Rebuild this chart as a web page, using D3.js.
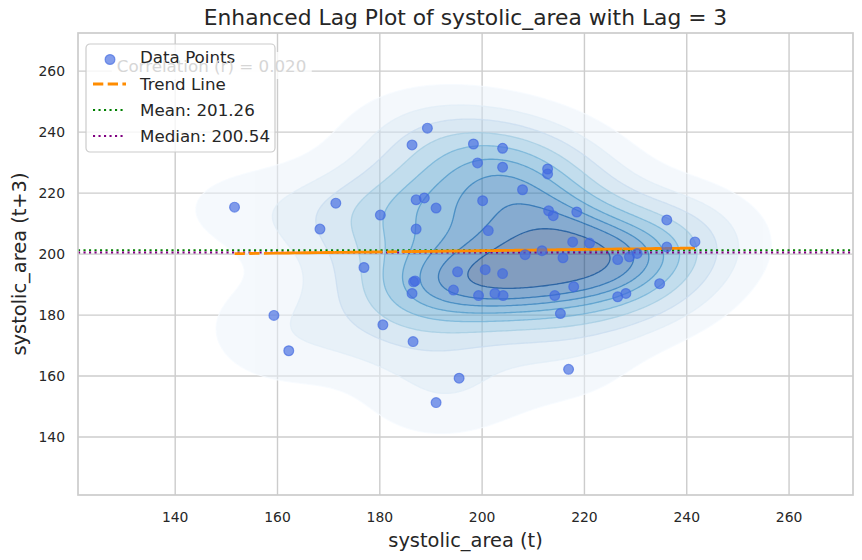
<!DOCTYPE html>
<html>
<head>
<meta charset="utf-8">
<script src="https://cdn.jsdelivr.net/npm/d3@7"></script>
<style>
  body { margin: 0; background: #fff; }
  text { font-family: "DejaVu Sans", sans-serif; fill: #262626; }
</style>
</head>
<body>
<div id="chart"></div>
<script>
// lag pairs: x = value at t, y = value at t+3
const lagX = [151.6, 171.4, 168.3, 180.1, 176.9, 159.3, 162.2, 180.6, 189.3, 186.3,
              198.3, 204.0, 199.1, 204.0, 212.8, 212.8, 207.9, 187.1, 188.7, 191.0,
              200.1, 213.0, 213.9, 218.5, 187.1, 201.2, 217.7, 221.0, 226.5, 208.4,
              211.7, 215.8, 195.2, 200.6, 204.0, 186.6, 186.9, 186.3, 194.4, 199.3,
              202.5, 204.1, 214.2, 217.9, 226.5, 228.1, 236.1, 241.6, 236.1, 228.8,
              230.3, 234.7, 215.3, 186.5, 195.5, 191.0, 216.9];
const lagY = [215.4, 216.7, 208.2, 212.8, 195.6, 179.9, 168.3, 176.8, 241.3, 235.8,
              236.1, 234.7, 229.9, 228.5, 227.9, 226.3, 221.1, 217.8, 218.4, 215.1,
              217.5, 214.2, 212.6, 213.8, 208.2, 207.7, 204.0, 203.6, 198.2, 199.8,
              201.1, 198.8, 194.2, 194.9, 193.6, 190.9, 191.2, 187.1, 188.2, 186.4,
              187.1, 186.4, 186.4, 189.3, 186.0, 187.1, 211.2, 204.0, 202.3, 199.1,
              200.2, 190.3, 180.5, 171.3, 159.3, 151.3, 162.2];

const tickValues = [140, 160, 180, 200, 220, 240, 260];
const axisLimits = [121, 272.5];
const meanValue = 201.26;
const medianValue = 200.54;
const corrLabel = 'Correlation (r) = 0.020';
const legendLabels = ['Data Points', 'Trend Line', 'Mean: 201.26', 'Median: 200.54'];
// matplotlib "Blues" anchor colours
const bluesStops = ['#f7fbff', '#deebf7', '#c6dbef', '#9ecae1', '#6baed6',
                    '#4292c6', '#2171b5', '#08519c', '#08306b'];
const bwAdjust = 1.06;

const W = 862, H = 560;
const margin = { top: 33, right: 9, bottom: 65, left: 78 };
const iw = W - margin.left - margin.right;
const ih = H - margin.top - margin.bottom;

const svg = d3.select('#chart').append('svg')
    .attr('width', W).attr('height', H);

const x = d3.scaleLinear().domain(axisLimits).range([0, iw]);
const y = d3.scaleLinear().domain(axisLimits).range([ih, 0]);

const g = svg.append('g').attr('transform', `translate(${margin.left},${margin.top})`);

// grid
g.append('g').selectAll('line').data(tickValues).enter().append('line')
    .attr('x1', d => x(d)).attr('x2', d => x(d)).attr('y1', 0).attr('y2', ih)
    .attr('stroke', '#cccccc').attr('stroke-width', 1.4);
g.append('g').selectAll('line').data(tickValues).enter().append('line')
    .attr('y1', d => y(d)).attr('y2', d => y(d)).attr('x1', 0).attr('x2', iw)
    .attr('stroke', '#cccccc').attr('stroke-width', 1.4);

// --- KDE (gaussian_kde, Scott bandwidth) ---
const n = lagX.length;
const mx = d3.mean(lagX), my = d3.mean(lagY);
let sxx = 0, syy = 0, sxy = 0;
for (let i = 0; i < n; i++) {
    sxx += (lagX[i] - mx) ** 2;
    syy += (lagY[i] - my) ** 2;
    sxy += (lagX[i] - mx) * (lagY[i] - my);
}
const fac = (Math.pow(n, -1 / 6) * bwAdjust) ** 2;
const cxx = sxx / (n - 1) * fac, cyy = syy / (n - 1) * fac, cxy = sxy / (n - 1) * fac;
const det = cxx * cyy - cxy * cxy;
const ixx = cyy / det, iyy = cxx / det, ixy = -cxy / det;

const step = 2;
const gw = Math.ceil(iw / step), gh = Math.ceil(ih / step);
const grid = new Float64Array(gw * gh);
for (let j = 0; j < gh; j++) {
    const vy = y.invert((j + 0.5) * step);
    for (let i = 0; i < gw; i++) {
        const vx = x.invert((i + 0.5) * step);
        let s = 0;
        for (let k = 0; k < n; k++) {
            const dx = vx - lagX[k], dy = vy - lagY[k];
            s += Math.exp(-0.5 * (ixx * dx * dx + 2 * ixy * dx * dy + iyy * dy * dy));
        }
        grid[j * gw + i] = s;
    }
}

// iso-proportion levels, like seaborn (levels=10, thresh=0.05)
const sorted = Array.from(grid).sort((a, b) => b - a);
const total = d3.sum(sorted);
const cum = [];
let acc = 0;
for (const v of sorted) { acc += v; cum.push(acc / total); }
const props = d3.range(10).map(i => 0.05 + i * 0.95 / 9);
const levels = props.map(p => {
    const idx = Math.min(d3.bisectLeft(cum, 1 - p), sorted.length - 1);
    return sorted[idx];
}).sort((a, b) => a - b);

const blues = d3.scaleLinear().domain(d3.range(9).map(i => i / 8)).range(bluesStops);
const lo = levels[0], hi = levels[levels.length - 1];
const norm = v => (v - lo) / (hi - lo);

const contours = d3.contours().size([gw, gh]).thresholds(levels.slice(0, 9))(grid);
const path = d3.geoPath(d3.geoIdentity().scale(step));

const kdeFill = g.append('g').attr('opacity', 0.5);
kdeFill.selectAll('path').data(contours).enter().append('path')
    .attr('d', path)
    .attr('fill', (d, i) => blues(norm((levels[i] + levels[i + 1]) / 2)));

g.append('g').selectAll('path').data(contours).enter().append('path')
    .attr('d', path)
    .attr('fill', 'none')
    .attr('stroke', (d, i) => blues(norm(levels[i])))
    .attr('stroke-width', 1.3)
    .attr('opacity', 0.7);

// mean / median lines
g.append('line')
    .attr('x1', 0).attr('x2', iw).attr('y1', y(meanValue)).attr('y2', y(meanValue))
    .attr('stroke', 'green').attr('stroke-width', 2.1).attr('stroke-dasharray', '2.1,3.4');
g.append('line')
    .attr('x1', 0).attr('x2', iw).attr('y1', y(medianValue)).attr('y2', y(medianValue))
    .attr('stroke', 'purple').attr('stroke-width', 2.1).attr('stroke-dasharray', '2.1,3.4');

// trend line (least squares), drawn through the points in series order
const slope = sxy / sxx;
const intercept = my - slope * mx;
const trendLine = d3.line().x(d => x(d)).y(d => y(intercept + slope * d));
g.append('path')
    .attr('d', trendLine(lagX))
    .attr('fill', 'none')
    .attr('stroke', '#ff8c00').attr('stroke-width', 2.8)
    .attr('stroke-dasharray', '10.3,4.4');

// points
g.append('g').selectAll('circle').data(lagX).enter().append('circle')
    .attr('cx', d => x(d))
    .attr('cy', (d, i) => y(lagY[i]))
    .attr('r', 4.9)
    .attr('fill', 'royalblue').attr('fill-opacity', 0.65)
    .attr('stroke', 'royalblue').attr('stroke-opacity', 0.65).attr('stroke-width', 1.2);

// frame
g.append('rect').attr('width', iw).attr('height', ih)
    .attr('fill', 'none').attr('stroke', '#cccccc').attr('stroke-width', 1.7);

// tick labels
g.append('g').selectAll('text').data(tickValues).enter().append('text')
    .attr('x', d => x(d)).attr('y', ih + 27)
    .attr('text-anchor', 'middle').attr('font-size', '13.9px')
    .text(d => d);
g.append('g').selectAll('text').data(tickValues).enter().append('text')
    .attr('x', -13).attr('y', d => y(d)).attr('dy', '0.36em')
    .attr('text-anchor', 'end').attr('font-size', '13.9px')
    .text(d => d);

// axis labels + title
svg.append('text')
    .attr('x', margin.left + iw / 2).attr('y', 547)
    .attr('text-anchor', 'middle').attr('font-size', '19.4px')
    .text('systolic_area (t)');
svg.append('text')
    .attr('transform', `translate(26,${margin.top + ih / 2}) rotate(-90)`)
    .attr('text-anchor', 'middle').attr('font-size', '19.4px')
    .text('systolic_area (t+3)');
svg.append('text')
    .attr('x', margin.left + iw / 2).attr('y', 25)
    .attr('text-anchor', 'middle').attr('font-size', '21.8px')
    .text('Enhanced Lag Plot of systolic_area with Lag = 3');

// correlation box (behind legend), its text shows through the legend
const corrX = margin.left + 0.05 * iw, corrY = margin.top + 0.05 * ih;
svg.append('rect')
    .attr('x', corrX - 5).attr('y', corrY - 4).attr('width', 200).attr('height', 27).attr('rx', 5)
    .attr('fill', 'white').attr('opacity', 0.8);

// legend
const lg = svg.append('g').attr('transform', 'translate(86,44)');
lg.append('rect')
    .attr('width', 189).attr('height', 108).attr('rx', 4)
    .attr('fill', 'white').attr('fill-opacity', 0.8)
    .attr('stroke', '#cccccc').attr('stroke-width', 1.2);

svg.append('text')
    .attr('x', corrX).attr('y', corrY + 16).attr('font-size', '16.7px')
    .style('fill', '#d6d6d6')
    .text(corrLabel);

const rowY = [13, 40, 66, 92];
lg.selectAll('text.lbl').data(legendLabels).enter().append('text')
    .attr('class', 'lbl')
    .attr('x', 54).attr('y', (d, i) => rowY[i]).attr('dy', '0.36em')
    .attr('font-size', '16.7px')
    .text(d => d);
lg.append('circle').attr('cx', 24).attr('cy', 15.5).attr('r', 4.9)
    .attr('fill', 'royalblue').attr('fill-opacity', 0.65)
    .attr('stroke', 'royalblue').attr('stroke-opacity', 0.65).attr('stroke-width', 1.2);
lg.append('line').attr('x1', 7).attr('x2', 40).attr('y1', rowY[1]).attr('y2', rowY[1])
    .attr('stroke', '#ff8c00').attr('stroke-width', 2.8).attr('stroke-dasharray', '10.3,4.4');
lg.append('line').attr('x1', 7).attr('x2', 40).attr('y1', rowY[2]).attr('y2', rowY[2])
    .attr('stroke', 'green').attr('stroke-width', 2.1).attr('stroke-dasharray', '2.1,3.4');
lg.append('line').attr('x1', 7).attr('x2', 40).attr('y1', rowY[3]).attr('y2', rowY[3])
    .attr('stroke', 'purple').attr('stroke-width', 2.1).attr('stroke-dasharray', '2.1,3.4');
</script>
</body>
</html>
